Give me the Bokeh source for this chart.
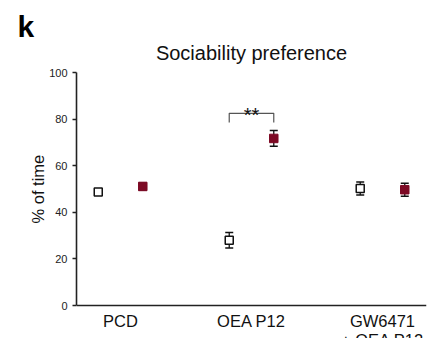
from bokeh.plotting import figure
from bokeh.models import (Range1d, FixedTicker, ColumnDataSource, Whisker, TeeHead, Title)
from bokeh.core.properties import value
from bokeh.embed import file_html
from bokeh.resources import INLINE

# ---- data ----
categories = ["PCD", "OEA P12", "GW6471\n+ OEA P12"]
empty_mean = [48.7, 28.0, 50.2]
empty_sem = [1.3, 3.3, 2.8]
social_mean = [51.1, 71.7, 49.7]
social_sem = [1.5, 3.4, 2.8]
y_ticks = [0, 20, 40, 60, 80, 100]
title_text = "Sociability preference"
panel_letter = "k"
y_label = "% of time"
sig_text = "**"
sig_pair_index = 1
sig_bracket_top = 82.5
sig_bracket_leg = 78.5
sig_text_y = 81.6
title_y = 108.2

FONT = "Liberation Sans"
RED = "#7d0a25"
DODGE = 0.17

xpos = [i + 1 for i in range(len(categories))]
x_empty = [x - DODGE for x in xpos]
x_social = [x + DODGE for x in xpos]

# frame spans from near the top to the bottom edge; the axes cover 0-100 only
# (the x axis sits at y = 0 and its two-line label runs off the page as in the original)
p = figure(width=430, height=338, output_backend="svg", toolbar_location=None,
           x_range=Range1d(0.664, 3.336), y_range=Range1d(-14.16, 118.03),
           min_border_left=76, min_border_right=4, min_border_top=30, min_border_bottom=0)
p.outline_line_color = None
p.grid.visible = False
p.background_fill_color = "white"
p.border_fill_color = "white"

# panel letter
p.title.text = panel_letter
p.title.align = "left"
p.title.offset = -59
p.title.text_font = FONT
p.title.text_font_size = "30px"
p.title.text_font_style = "bold"
p.title.text_color = "#000000"
p.title.standoff = -25

# chart title, centred over the plot
p.text([(xpos[0] + xpos[-1]) / 2], [title_y], text=[title_text], text_font=value(FONT),
       text_font_size="20px", text_align="center", text_baseline="alphabetic", text_color="#111111")

# axes
p.xaxis.fixed_location = 0
p.xaxis.ticker = FixedTicker(ticks=xpos)
p.xaxis.major_label_overrides = {x: c for x, c in zip(xpos, categories)}
p.xaxis.major_tick_line_color = None
p.xaxis.minor_tick_line_color = None
p.xaxis.axis_line_width = 1.6
p.xaxis.axis_line_color = "#222222"
p.xaxis.major_label_text_font = FONT
p.xaxis.major_label_text_font_size = "16.5px"
p.xaxis.major_label_text_line_height = 1.1
p.xaxis.major_label_text_color = "#111111"
p.xaxis.major_label_standoff = 0

p.yaxis.ticker = FixedTicker(ticks=y_ticks)
p.yaxis.bounds = (0, 100)
p.yaxis.minor_tick_line_color = None
p.yaxis.major_tick_in = 0
p.yaxis.major_tick_out = 4
p.yaxis.major_tick_line_width = 1.5
p.yaxis.major_tick_line_color = "#222222"
p.yaxis.axis_line_width = 1.6
p.yaxis.axis_line_color = "#222222"
p.yaxis.major_label_text_font = FONT
p.yaxis.major_label_text_font_size = "11px"
p.yaxis.major_label_text_color = "#222222"
p.yaxis.major_label_standoff = 5

# y axis title, placed along the 0-100 part of the axis
p.add_layout(Title(text=y_label, align="left", offset=115, text_font=FONT,
                   text_font_size="16.5px", text_font_style="normal", text_color="#111111",
                   standoff=0), "left")

# error bars
for xs, m, s in ((x_empty, empty_mean, empty_sem), (x_social, social_mean, social_sem)):
    src = ColumnDataSource(dict(x=xs, lo=[a - b for a, b in zip(m, s)], hi=[a + b for a, b in zip(m, s)]))
    w = Whisker(source=src, base="x", lower="lo", upper="hi", dimension="height",
                line_color="#111111", line_width=1.3, level="underlay",
                upper_head=TeeHead(size=8, line_color="#111111", line_width=1.5),
                lower_head=TeeHead(size=8, line_color="#111111", line_width=1.5))
    p.add_layout(w)

p.scatter(x_empty, empty_mean, marker="square", size=8, fill_color="white",
          line_color="#111111", line_width=1.5)
p.scatter(x_social, social_mean, marker="square", size=8.5, fill_color=RED,
          line_color=RED, line_width=1)

# significance bracket
bx0 = x_empty[sig_pair_index]
bx1 = x_social[sig_pair_index]
p.line([bx0, bx0, bx1, bx1], [sig_bracket_leg, sig_bracket_top, sig_bracket_top, sig_bracket_leg],
       line_color="#555555", line_width=1.2)
p.text([(bx0 + bx1) / 2], [sig_text_y], text=[sig_text], text_font=value(FONT),
       text_font_size="20px", text_align="center", text_baseline="alphabetic", text_color="#111111")

open("out.html", "w").write(file_html(p, INLINE))
